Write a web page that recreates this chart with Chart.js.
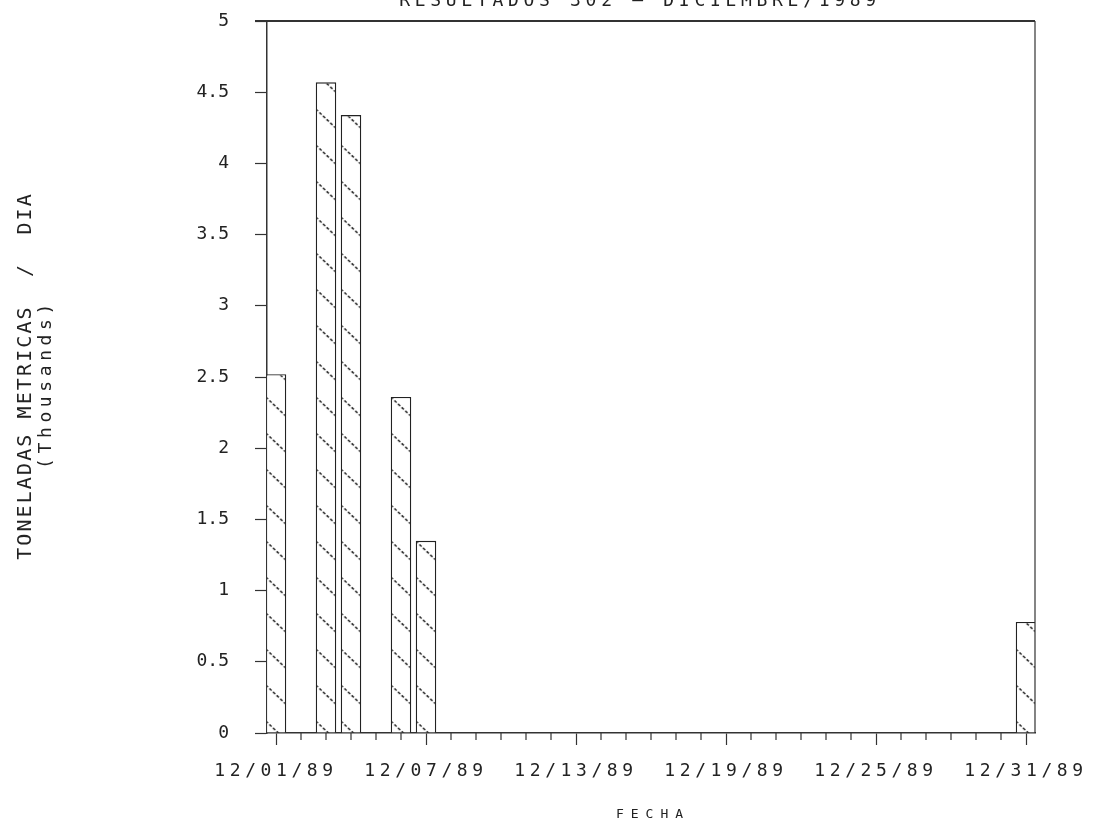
<!DOCTYPE html>
<html>
<head>
<meta charset="utf-8">
<script src="https://cdn.jsdelivr.net/npm/chart.js@4.4.1/dist/chart.umd.min.js"></script>
<style>
  html, body { margin: 0; padding: 0; background: #fff; overflow: hidden; }
  #wrap { width: 1094px; height: 829px; }
</style>
</head>
<body>
<div id="wrap"><canvas id="grafico" width="1094" height="829"></canvas></div>
<script>
const fechas = [
    "12/01/89", "12/02/89", "12/03/89", "12/04/89", "12/05/89", "12/06/89",
    "12/07/89", "12/08/89", "12/09/89", "12/10/89", "12/11/89", "12/12/89",
    "12/13/89", "12/14/89", "12/15/89", "12/16/89", "12/17/89", "12/18/89",
    "12/19/89", "12/20/89", "12/21/89", "12/22/89", "12/23/89", "12/24/89",
    "12/25/89", "12/26/89", "12/27/89", "12/28/89", "12/29/89", "12/30/89",
    "12/31/89",
];
const dias = [1, 3, 4, 6, 7, 31];
const toneladas = [2.52, 4.57, 4.34, 2.36, 1.35, 0.78];

const titulo = "RESULTADOS 302 — DICIEMBRE/1989";
const tituloY = "TONELADAS METRICAS  /  DIA";
const unidades = "(Thousands)";
const tituloX = "FECHA";

const FUENTE = "'DejaVu Sans Mono', monospace";
Chart.defaults.font.family = FUENTE;
Chart.defaults.color = "#222";

// rayado diagonal de las barras
const tile = document.createElement("canvas");
tile.width = 25;
tile.height = 36;
const tg = tile.getContext("2d");
tg.fillStyle = "#fff";
tg.fillRect(0, 0, 25, 36);
tg.strokeStyle = "#222";
tg.lineWidth = 1.5;
tg.setLineDash([3, 2]);
tg.beginPath();
tg.moveTo(0, 1);
tg.lineTo(21, 21);
tg.stroke();
const rayado = tg.createPattern(tile, "repeat");

const esMayor = (v) => (v - 1) % 6 === 0;

const decoracion = {
    id: "decoracion",
    beforeDraw(chart) {
        chart.ctx.letterSpacing = "0px";
    },
    beforeDatasetsDraw(chart) {
        const bar = chart.getDatasetMeta(0).data[0];
        if (bar) {
            rayado.setTransform(new DOMMatrix().translate(bar.x - bar.width / 2, 0));
        }
    },
    afterDatasetsDraw(chart) {
        // las etiquetas del eje X se dibujan despues (z = 1), espaciadas
        chart.ctx.letterSpacing = "4.6px";
    },
    afterDraw(chart) {
        const { ctx, chartArea: a, scales } = chart;
        ctx.save();
        ctx.letterSpacing = "0px";
        ctx.strokeStyle = "#333";

        // marco superior y derecho
        ctx.lineWidth = 2;
        ctx.beginPath();
        ctx.moveTo(a.left - 12, a.top);
        ctx.lineTo(a.right, a.top);
        ctx.stroke();
        ctx.lineWidth = 1.2;
        ctx.beginPath();
        ctx.moveTo(a.right, a.top);
        ctx.lineTo(a.right, a.bottom);
        ctx.stroke();

        // marcas menores del eje X
        const x = scales.x;
        ctx.lineWidth = 1.2;
        x.ticks.forEach((t) => {
            if (esMayor(t.value)) return;
            const px = x.getPixelForValue(t.value);
            ctx.beginPath();
            ctx.moveTo(px, a.bottom);
            ctx.lineTo(px, a.bottom + 7);
            ctx.stroke();
        });

        ctx.fillStyle = "#222";
        ctx.textAlign = "center";

        // titulo (cortado arriba, como en el original)
        ctx.font = "18px " + FUENTE;
        ctx.letterSpacing = "4.7px";
        ctx.textBaseline = "alphabetic";
        ctx.fillText(titulo, 640, 6);

        // titulo eje X
        ctx.font = "13px " + FUENTE;
        ctx.letterSpacing = "7px";
        ctx.textBaseline = "middle";
        ctx.fillText(tituloX, (a.left + a.right) / 2 + 2, 815);

        // titulos eje Y
        ctx.save();
        ctx.translate(26, 376);
        ctx.rotate(-Math.PI / 2);
        ctx.font = "20px " + FUENTE;
        ctx.letterSpacing = "2.1px";
        ctx.fillText(tituloY, 0, 0);
        ctx.restore();

        ctx.save();
        ctx.translate(46, 384);
        ctx.rotate(-Math.PI / 2);
        ctx.font = "18px " + FUENTE;
        ctx.letterSpacing = "4.6px";
        ctx.fillText(unidades, 0, 0);
        ctx.restore();

        ctx.restore();
    },
};

new Chart(document.getElementById("grafico"), {
    type: "bar",
    data: {
        datasets: [
            {
                label: "Toneladas",
                data: dias.map((d, i) => ({ x: d, y: toneladas[i] })),
                backgroundColor: rayado,
                borderColor: "#222",
                borderWidth: 1.4,
                barPercentage: 0.82,
                categoryPercentage: 1,
            },
        ],
    },
    options: {
        responsive: false,
        animation: false,
        layout: {
            padding: { top: 21, right: 59, left: 0, bottom: 0 },
        },
        plugins: {
            legend: { display: false },
            tooltip: { enabled: false },
            title: { display: false },
        },
        scales: {
            x: {
                type: "linear",
                min: 0.64,
                max: 31.36,
                offset: false,
                afterFit: (s) => { s.height = 96; },
                border: { display: true, color: "#333", width: 1.5 },
                grid: {
                    display: true,
                    offset: false,
                    drawOnChartArea: false,
                    drawTicks: true,
                    tickLength: 12,
                    tickWidth: 1.2,
                    tickColor: (c) => (c.tick && esMayor(c.tick.value) ? "#333" : "rgba(0,0,0,0)"),
                },
                ticks: {
                    z: 1,
                    stepSize: 1,
                    includeBounds: false,
                    autoSkip: false,
                    maxRotation: 0,
                    minRotation: 0,
                    padding: 16,
                    font: { size: 18 },
                    color: "#222",
                    callback: (v) => (esMayor(v) ? fechas[v - 1] : ""),
                },
            },
            y: {
                min: 0,
                max: 5,
                afterFit: (s) => {
                    s.width = 267;
                    s.paddingTop = 0;
                    s.paddingBottom = 0;
                },
                border: { display: true, color: "#333", width: 1.5 },
                grid: {
                    drawOnChartArea: false,
                    drawTicks: true,
                    tickLength: 12,
                    tickWidth: 1.2,
                    tickColor: "#333",
                },
                ticks: {
                    stepSize: 0.5,
                    padding: 26,
                    font: { size: 18 },
                    color: "#222",
                    callback: (v) => String(v),
                },
            },
        },
    },
    plugins: [decoracion],
});
</script>
</body>
</html>
